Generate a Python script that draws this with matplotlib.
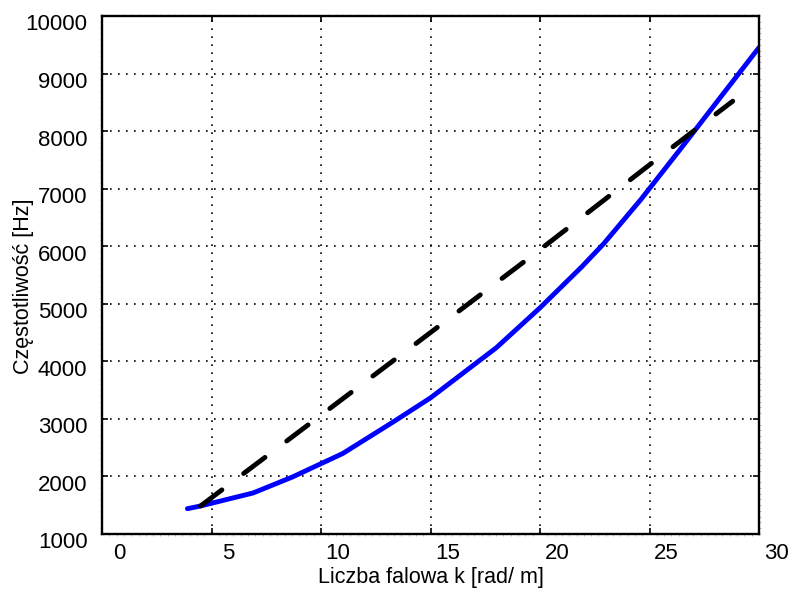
import numpy as np
import matplotlib
matplotlib.use('Agg')
import matplotlib.pyplot as plt
from matplotlib.transforms import ScaledTranslation
from matplotlib.ticker import MultipleLocator

# wave number k [rad/m] and frequency [Hz]
k_blue = [3.9, 4.5, 6.9, 8.7, 11.0, 13.3, 15.0, 18.0, 20.0, 21.9, 22.9, 24.6, 26.6, 28.0, 30.0]
f_blue = [1440, 1487, 1713, 1991, 2400, 2948, 3365, 4235, 4930, 5640, 6040, 6809, 7780, 8470, 9452]

k_black = [4.5, 14.2, 20.0, 25.6, 28.8]
f_black = [1487, 4270, 5940, 7591, 8520]

xticks = [0, 5, 10, 15, 20, 25, 30]
yticks = [1000, 2000, 3000, 4000, 5000, 6000, 7000, 8000, 9000, 10000]

plt.rcParams['font.family'] = ['Liberation Sans', 'DejaVu Sans']
plt.rcParams['font.size'] = 16

fig = plt.figure(figsize=(7.91, 5.90), dpi=100)
ax = fig.add_axes([102/791, 56/590, 657/791, 518/590])

ax.plot(k_blue, f_blue, color='#0000ff', lw=3.5, solid_capstyle='round', solid_joinstyle='round')
ax.plot(k_black, f_black, color='black', lw=3.5, ls=(0, (5.5, 5.6)), dash_capstyle='round')

ax.set_xlim(0, 30)
ax.set_ylim(1000, 10000)
ax.set_xticks(xticks)
ax.set_yticks(yticks)
ax.xaxis.set_minor_locator(MultipleLocator(1/3))
ax.yaxis.set_minor_locator(MultipleLocator(100))

ax.grid(True, which='major', color='black', lw=1.2, ls=(0, (1, 3.8)))
ax.tick_params(which='major', direction='in', length=4.5, width=1.2,
               top=True, right=True, labelsize=16)
ax.tick_params(axis='x', which='major', pad=6.5)
ax.tick_params(axis='y', which='major', pad=10.5)
ax.tick_params(which='minor', direction='out', length=1.5, width=0.6,
               color='#b0b0b0', top=True, right=True)
for s in ax.spines.values():
    s.set_linewidth(1.7)

# labels in the picture sit a bit off their ticks
dx = ScaledTranslation(0.17, 0, fig.dpi_scale_trans)
dy = ScaledTranslation(0, -0.065, fig.dpi_scale_trans)
for lab in ax.get_xticklabels():
    lab.set_transform(lab.get_transform() + dx)
for lab in ax.get_yticklabels():
    lab.set_transform(lab.get_transform() + dy)

ax.set_xlabel('Liczba falowa k [rad/ m]', fontsize=15.5)
ax.set_ylabel('Częstotliwość [Hz]', fontsize=15.5)
ax.xaxis.set_label_coords(0.5, -0.064)
ax.yaxis.set_label_coords(-0.104, 0.478)

fig.savefig('out.png', dpi=100)
